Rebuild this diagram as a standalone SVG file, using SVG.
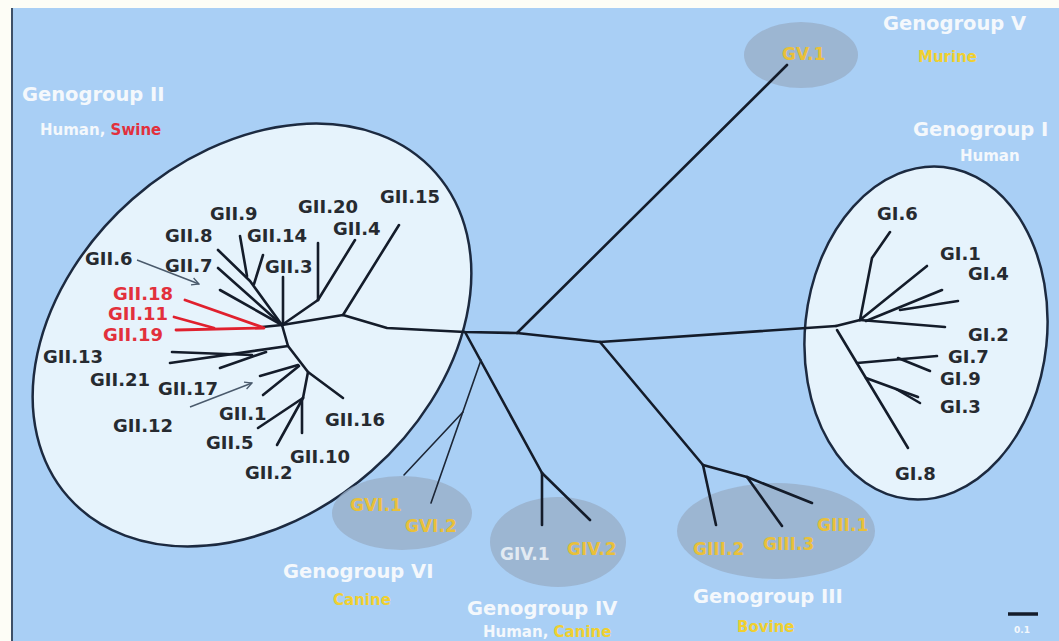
<svg xmlns="http://www.w3.org/2000/svg" width="1059" height="641" viewBox="0 0 1059 641">
<defs>
<style>
.bg{fill:#a9cff5}
.clu{fill:#e6f3fc;stroke:#1c2a40;stroke-width:2.5}
.grey{fill:#98afc9;opacity:0.8}
.br{fill:none;stroke:#141c2a;stroke-width:2.6;stroke-linecap:round;stroke-linejoin:round}
.thin{fill:none;stroke:#1c2636;stroke-width:1.6;stroke-linecap:round}
.red{fill:none;stroke:#e0202e;stroke-width:2.8;stroke-linecap:round}
.arr{fill:none;stroke:#4a5a6c;stroke-width:1.4}
.lbl{font-family:"DejaVu Sans",sans-serif;font-weight:bold;font-size:18px;fill:#262a30}
.rl{fill:#e2303c}
.ttl{font-family:"DejaVu Sans",sans-serif;font-weight:bold;font-size:19.5px;fill:#f4f8fc}
.sub{font-family:"DejaVu Sans",sans-serif;font-weight:bold;font-size:15px;fill:#f4f8fc}
.yel{fill:#f0d030}
.in{font-family:"DejaVu Sans",sans-serif;font-weight:bold;font-size:17px;fill:#e9c03a}
</style>
<marker id="ah" viewBox="0 0 10 10" refX="9" refY="5" markerWidth="9" markerHeight="9" markerUnits="userSpaceOnUse" orient="auto">
<path d="M1,1 L9,5 L1,9" fill="none" stroke="#4a5a6c" stroke-width="1.4"/>
</marker>
</defs>

<rect class="bg" x="0" y="0" width="1059" height="641"/>
<rect x="0" y="0" width="1059" height="8" fill="#fdfdf6"/>
<rect x="0" y="0" width="11" height="641" fill="#fdfdf6"/>
<line x1="12" y1="8" x2="12" y2="641" stroke="#3d5068" stroke-width="2"/>

<g id="genogroup-II">
<ellipse class="clu" cx="252" cy="335" rx="245" ry="181" transform="rotate(-41.4 252 335)"/>
<text class="ttl" x="22" y="101" font-size="19">Genogroup II</text>
<text class="sub" x="40" y="135">Human, <tspan class="rl">Swine</tspan></text>
</g>
<g id="genogroup-I">
<ellipse class="clu" cx="926" cy="333" rx="121" ry="167" transform="rotate(6 926 333)"/>
<text class="ttl" x="913" y="136">Genogroup I</text>
<text class="sub" x="960" y="161">Human</text>
</g>
<g id="genogroup-V">
<ellipse class="grey" cx="801" cy="55" rx="57" ry="33"/>
<text class="ttl" x="883" y="30">Genogroup V</text>
<text class="sub yel" x="918" y="62">Murine</text>
</g>
<g id="genogroup-VI">
<ellipse class="grey" cx="402" cy="513" rx="70" ry="37"/>
<text class="ttl" x="283" y="578">Genogroup VI</text>
<text class="sub yel" x="333" y="605">Canine</text>
</g>
<g id="genogroup-IV">
<ellipse class="grey" cx="558" cy="542" rx="68" ry="45"/>
<text class="ttl" x="467" y="615">Genogroup IV</text>
<text class="sub" x="483" y="637">Human, <tspan class="yel">Canine</tspan></text>
</g>
<g id="genogroup-III">
<ellipse class="grey" cx="776" cy="531" rx="99" ry="48"/>
<text class="ttl" x="693" y="603">Genogroup III</text>
<text class="sub yel" x="737" y="632">Bovine</text>
</g>

<g id="connectors">
<polyline class="br" points="282,325 343,315 387,328 465,332 517,333 600,342 836,326"/>
<line class="br" x1="343" y1="315" x2="399" y2="225"/>
<line class="br" x1="282" y1="325" x2="318" y2="300"/>
<line class="br" x1="318" y1="300" x2="355" y2="240"/>
<line class="br" x1="318" y1="300" x2="318" y2="243"/>
<line class="br" x1="283" y1="325" x2="283" y2="277"/>
<polyline class="br" points="282,325 250,281 218,250"/>
<line class="br" x1="247" y1="276" x2="240" y2="236"/>
<line class="br" x1="254" y1="284" x2="263" y2="255"/>
<line class="br" x1="282" y1="325" x2="218" y2="268"/>
<line class="br" x1="282" y1="325" x2="220" y2="290"/>
<line class="br" x1="262" y1="327" x2="282" y2="325"/>
<line class="red" x1="185" y1="300" x2="262" y2="327"/>
<line class="red" x1="174" y1="317" x2="214" y2="328"/>
<line class="red" x1="176" y1="330" x2="264" y2="328"/>
<polyline class="br" points="282,325 288,346 308,372 343,398"/>
<line class="br" x1="170" y1="363" x2="288" y2="346"/>
<line class="br" x1="172" y1="352" x2="252" y2="355"/>
<line class="br" x1="220" y1="368" x2="266" y2="352"/>
<line class="br" x1="298" y1="365" x2="260" y2="376"/>
<line class="br" x1="299" y1="366" x2="263" y2="395"/>
<line class="br" x1="308" y1="372" x2="303" y2="398"/>
<line class="br" x1="303" y1="398" x2="258" y2="428"/>
<line class="br" x1="303" y1="398" x2="277" y2="445"/>
<line class="br" x1="302" y1="400" x2="302" y2="433"/>
<line class="arr" x1="137" y1="260" x2="199" y2="284" marker-end="url(#ah)"/>
<line class="arr" x1="190" y1="407" x2="252" y2="383" marker-end="url(#ah)"/>
<line class="br" x1="517" y1="333" x2="787" y2="65"/>
<line class="br" x1="465" y1="332" x2="542" y2="473"/>
<line class="br" x1="542" y1="473" x2="542" y2="525"/>
<line class="br" x1="542" y1="473" x2="590" y2="520"/>
<line class="thin" x1="481" y1="360" x2="431" y2="503"/>
<line class="thin" x1="463" y1="412" x2="404" y2="475"/>
<line class="br" x1="600" y1="342" x2="703" y2="465"/>
<line class="br" x1="703" y1="465" x2="716" y2="525"/>
<line class="br" x1="703" y1="465" x2="747" y2="477"/>
<line class="br" x1="747" y1="477" x2="782" y2="526"/>
<line class="br" x1="747" y1="477" x2="812" y2="503"/>
<line class="br" x1="836" y1="326" x2="860" y2="320"/>
<polyline class="br" points="860,320 872,258 890,232"/>
<line class="br" x1="860" y1="320" x2="927" y2="266"/>
<line class="br" x1="866" y1="321" x2="942" y2="290"/>
<line class="br" x1="900" y1="310" x2="958" y2="301"/>
<line class="br" x1="860" y1="320" x2="945" y2="327"/>
<line class="br" x1="837" y1="330" x2="908" y2="448"/>
<line class="br" x1="857" y1="363" x2="937" y2="356"/>
<line class="br" x1="898" y1="358" x2="930" y2="371"/>
<line class="br" x1="866" y1="378" x2="918" y2="397"/>
<line class="br" x1="896" y1="389" x2="920" y2="403"/>
</g>

<g id="leaf-GII-9"><text class="lbl" x="210" y="220">GII.9</text></g>
<g id="leaf-GII-20"><text class="lbl" x="298" y="213">GII.20</text></g>
<g id="leaf-GII-15"><text class="lbl" x="380" y="203">GII.15</text></g>
<g id="leaf-GII-8"><text class="lbl" x="165" y="242">GII.8</text></g>
<g id="leaf-GII-14"><text class="lbl" x="247" y="242">GII.14</text></g>
<g id="leaf-GII-4"><text class="lbl" x="333" y="235">GII.4</text></g>
<g id="leaf-GII-6"><text class="lbl" x="85" y="265">GII.6</text></g>
<g id="leaf-GII-7"><text class="lbl" x="165" y="272">GII.7</text></g>
<g id="leaf-GII-3"><text class="lbl" x="265" y="273">GII.3</text></g>
<g id="leaf-GII-18"><text class="lbl rl" x="113" y="300">GII.18</text></g>
<g id="leaf-GII-11"><text class="lbl rl" x="108" y="320">GII.11</text></g>
<g id="leaf-GII-19"><text class="lbl rl" x="103" y="341">GII.19</text></g>
<g id="leaf-GII-13"><text class="lbl" x="43" y="363">GII.13</text></g>
<g id="leaf-GII-21"><text class="lbl" x="90" y="386">GII.21</text></g>
<g id="leaf-GII-17"><text class="lbl" x="158" y="395">GII.17</text></g>
<g id="leaf-GII-12"><text class="lbl" x="113" y="432">GII.12</text></g>
<g id="leaf-GII-1"><text class="lbl" x="219" y="420">GII.1</text></g>
<g id="leaf-GII-5"><text class="lbl" x="206" y="449">GII.5</text></g>
<g id="leaf-GII-16"><text class="lbl" x="325" y="426">GII.16</text></g>
<g id="leaf-GII-10"><text class="lbl" x="290" y="463">GII.10</text></g>
<g id="leaf-GII-2"><text class="lbl" x="245" y="479">GII.2</text></g>

<g id="leaf-GI-6"><text class="lbl" x="877" y="220">GI.6</text></g>
<g id="leaf-GI-1"><text class="lbl" x="940" y="260">GI.1</text></g>
<g id="leaf-GI-4"><text class="lbl" x="968" y="280">GI.4</text></g>
<g id="leaf-GI-2"><text class="lbl" x="968" y="341">GI.2</text></g>
<g id="leaf-GI-7"><text class="lbl" x="948" y="363">GI.7</text></g>
<g id="leaf-GI-9"><text class="lbl" x="940" y="385">GI.9</text></g>
<g id="leaf-GI-3"><text class="lbl" x="940" y="413">GI.3</text></g>
<g id="leaf-GI-8"><text class="lbl" x="895" y="480">GI.8</text></g>

<g id="leaf-GV-1"><text class="in" x="782" y="60">GV.1</text></g>
<g id="leaf-GVI-1"><text class="in" x="350" y="511">GVI.1</text></g>
<g id="leaf-GVI-2"><text class="in" x="405" y="532">GVI.2</text></g>
<g id="leaf-GIV-1"><text class="in" x="500" y="560" style="fill:#e2eaf2">GIV.1</text></g>
<g id="leaf-GIV-2"><text class="in" x="567" y="555">GIV.2</text></g>
<g id="leaf-GIII-1"><text class="in" x="817" y="531">GIII.1</text></g>
<g id="leaf-GIII-3"><text class="in" x="763" y="550">GIII.3</text></g>
<g id="leaf-GIII-2"><text class="in" x="693" y="555">GIII.2</text></g>

<g id="scale-bar">
<line x1="1008" y1="614" x2="1038" y2="614" stroke="#141c2a" stroke-width="3.5"/>
<text x="1014" y="633" font-family="DejaVu Sans, sans-serif" font-weight="bold" font-size="9" fill="#f4f8fc">0.1</text>
</g>
</svg>
